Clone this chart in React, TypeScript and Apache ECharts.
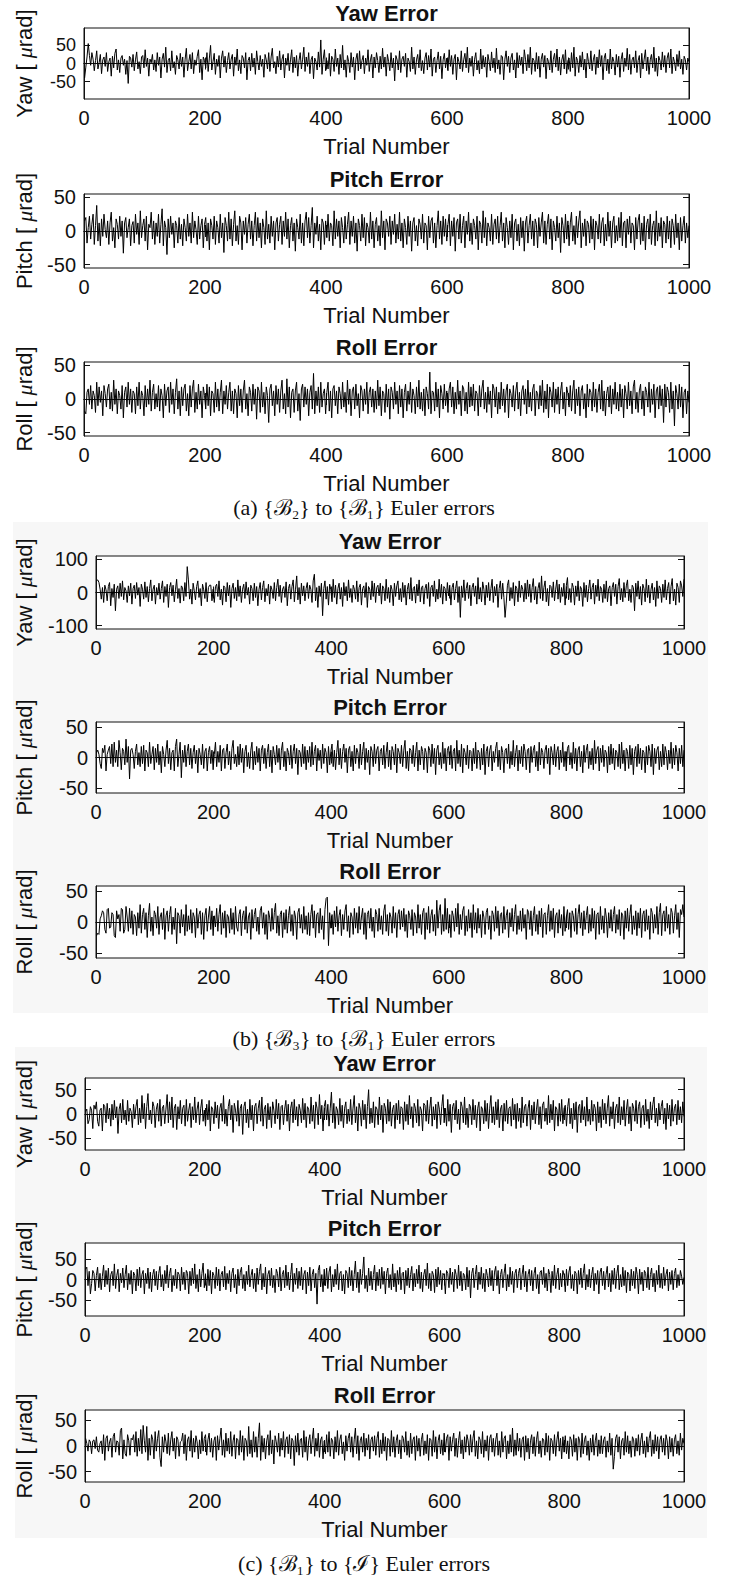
import React, { useEffect, useRef } from "react";
import * as echarts from "echarts";

// Values read (estimated) from the figure, one value for every 2nd trial (500 per series)
const xTicks = [0, 200, 400, 600, 800, 1000];
const yTicks50 = [-50, 0, 50];
const yTicks100 = [-100, 0, 100];

const yawA = [
  -40, -10, 18, 55, 22, -5, 30, 12, -20, 8, 35, -15, 2, 25, -28, 10, 18, -8, 30, -22,
  5, 15, -35, 20, -12, 28, 40, -18, 10, -25, 15, 22, -5, 12, -30, 8, -55, 20, 15, -10,
  25, -20, 10, 32, -15, 5, -28, 18, 22, -12, 38, -8, 15, -35, 12, 2, 25, -18, 10, -22,
  30, -5, 18, -40, 12, 28, -10, 45, -25, 8, 15, -20, 35, -12, 5, -30, 22, 10, -15, 28,
  -8, 18, -38, 12, 42, -20, 5, 25, -15, 30, -28, 10, -5, 20, 38, -25, 12, -45, 18, 8,
  -12, 30, -22, 15, 50, -18, 5, 28, -30, 12, -8, 22, -40, 15, 35, -10, 20, -25, 8, 30,
  -15, 12, 25, -35, 18, -5, 40, -20, 10, -28, 22, 15, -12, 30, -45, 8, 18, -20, 28, -10,
  15, -30, 35, 5, -18, 22, -8, 12, -38, 25, 10, -15, 30, -22, 18, 42, -12, 5, -28, 20,
  -10, 35, -18, 12, 25, -40, 15, -5, 28, -20, 10, 38, -25, 18, -12, 22, -35, 8, 30, -15,
  12, 45, -22, 18, -8, 30, -28, 10, 20, -42, 15, 5, -18, 32, -10, 65, -30, 12, 38, -20,
  8, -15, 28, -35, 20, 12, -22, 40, -8, 15, -30, 25, -12, 50, -18, 10, -38, 22, 5, -25,
  30, -10, 18, -45, 12, 28, -20, 35, -15, 8, 22, -28, 15, -5, 38, -22, 10, 25, -40, 18,
  -12, 30, 8, -25, 20, -15, 42, -10, 18, -35, 25, 5, -20, 30, -12, 15, -48, 22, 10, -18,
  35, -25, 12, 20, -8, 28, -38, 15, 5, -22, 45, -15, 18, -30, 10, 25, -12, 38, -20, 8,
  -28, 15, 30, -18, 22, -10, 40, -35, 12, 18, -25, 8, 32, -15, 20, -42, 10, 28, -12, 15,
  -20, 38, -8, 22, -30, 12, 25, -45, 18, 5, -15, 35, -22, 10, 28, -12, 45, -25, 15, -8,
  20, -35, 12, 30, -18, 8, -28, 40, -15, 22, -10, 18, -38, 25, 5, -20, 32, -12, 15, -25,
  42, -15, 10, -30, 22, 18, -45, 12, 35, -8, 20, -25, 15, 28, -18, 10, -40, 30, -12, 22,
  -5, 18, -28, 38, 12, -20, 25, -12, 45, -30, 15, 8, -22, 30, -15, 20, -38, 12, 28, -10,
  22, -42, 15, 5, -18, 35, -25, 12, 28, -10, 40, -20, 18, -32, 10, 25, -15, 38, -28, 8,
  15, -22, 30, -12, 45, -35, 18, 8, -25, 22, -10, 32, -18, 12, -40, 28, 5, -15, 35, -20,
  10, 25, -30, 18, -12, 38, -8, 22, -45, 15, 28, -20, 12, -28, 40, -15, 18, 5, -32, 25,
  -10, 20, -38, 12, 30, -22, 15, -8, 42, -18, 25, -30, 10, 18, -12, 35, -25, 8, 22, -40,
  28, -15, 12, 38, -20, 18, -30, 10, 25, -12, 45, -22, 15, -35, 20, 8, -18, 32, -10, 22,
  -25, 15, 30, -12, 40, -28, 18, 5, -20, 25, -8, 35, -15, 12, -30, 20, 10, -18, 15, 5,
];
const pitchA = [
  15, 20, -18, 5, 22, -12, 10, 25, -20, 8, 38, -15, 12, -22, 18, -8, 25, 2, -10, 15,
  -20, 12, 28, -15, 5, -25, 18, 10, -12, 22, -8, 15, -33, 12, 20, -10, 5, 18, -22, 8,
  14, -18, 25, -5, 12, -20, 30, -10, 8, 18, -15, 22, -28, 10, 5, 28, -12, 15, -20, 12,
  -8, 25, -18, 10, 33, -22, 15, 5, -35, 18, -10, 22, -5, 12, -25, 15, 8, -18, 20, -12,
  10, -22, 18, 5, -15, 25, -8, 12, -18, 28, -10, 15, 2, -20, 22, -12, 8, 18, -25, 10,
  20, -15, 12, -28, 18, 8, -12, 22, -20, 15, 5, -18, 25, -10, 12, -32, 20, 8, -15, 28,
  -12, 18, -22, 10, 30, -15, 8, -20, 22, 12, -28, 15, -5, 20, -18, 10, 25, -12, 15, -22,
  8, 28, -15, 20, -10, 12, -25, 18, 5, -20, 30, -12, 10, -18, 22, -8, 15, -28, 12, 20,
  -15, 10, 22, -20, 15, -8, 28, -12, 18, -25, 8, 20, -15, 12, -30, 18, 5, -12, 25, -18,
  12, -22, 15, 28, -10, 20, -18, 8, 35, -25, 12, -5, 22, -15, 10, -28, 18, 12, -20, 15,
  -10, 25, -15, 12, 8, -22, 30, -12, 18, -8, 15, -25, 20, 5, -18, 22, -12, 10, 28, -20,
  15, -8, 22, -18, 12, -30, 18, 8, -15, 25, -10, 20, -22, 12, 5, -18, 28, -12, 15, -25,
  10, 20, -15, 8, -22, 30, -10, 15, -28, 18, 12, -8, 22, -20, 15, -5, 25, -18, 10, -12,
  28, -15, 12, -25, 18, 5, -20, 22, -8, 15, -30, 12, 20, -15, 8, -22, 18, 10, -12, 25,
  -18, 12, 8, -28, 22, -10, 15, 20, -18, 12, -25, 8, 30, -12, 15, -20, 22, -8, 18, -15,
  10, 25, -22, 15, -8, 20, -30, 12, 18, -12, 25, -18, 8, 22, -25, 15, -5, 28, -15, 12,
  -20, 18, 8, -12, 22, -28, 15, 10, -18, 30, -10, 20, -22, 12, 5, -15, 25, -20, 10, 18,
  -12, 22, -18, 8, 28, -15, 12, -25, 20, 5, -20, 15, -10, 25, -28, 12, 18, -15, 10, -22,
  20, -10, 15, -30, 12, 22, -18, 8, 25, -12, 15, -22, 18, 10, -25, 20, -8, 12, 28, -18,
  15, -20, 10, 25, -12, 18, -28, 15, 5, -15, 22, -10, 12, -32, 20, 8, -18, 25, -12, 15,
  -22, 12, 28, -15, 8, -20, 22, -10, 15, 30, -25, 12, -8, 18, -22, 15, 10, -18, 22, -12,
  18, -28, 15, 8, -12, 25, -18, 12, 20, -22, 10, -15, 28, -8, 15, -25, 12, 22, -18, 8,
  -15, 20, -10, 28, -22, 12, 15, -25, 18, -5, 22, -18, 12, 8, -28, 20, -12, 15, 25, -20,
  12, -15, 22, -28, 10, 18, -12, 25, -20, 8, 15, -22, 30, -15, 12, -8, 20, -25, 15, 10,
  -18, 22, -12, 15, -25, 18, 8, -20, 25, -10, 12, -28, 20, -15, 8, 22, -18, 12, -10, 8,
];
const rollA = [
  -18, -22, 10, 15, -8, 20, -15, 12, 5, -20, 25, -10, 18, -5, 12, -25, 20, 8, -12, 15,
  22, -15, 10, -18, 28, -8, 15, -22, 12, 5, -15, 20, -28, 10, 18, -12, 25, -8, 15, -20,
  12, 8, -22, 18, -10, 25, -15, 12, 5, -25, 20, -12, 15, -8, 28, -18, 10, 22, -15, 8,
  -12, 20, -18, 15, 5, -28, 22, -10, 12, 18, -20, 25, -8, 15, -22, 10, 30, -15, 12, -25,
  18, -10, 15, 22, -18, 8, -25, 20, -12, 15, 28, -20, 10, -15, 22, -8, 12, -28, 18, 5,
  -15, 22, -10, 18, -25, 12, 8, -20, 25, -12, 15, -18, 10, 28, -22, 12, -8, 20, -15, 10,
  25, -18, 12, -22, 15, 8, -28, 20, -10, 15, -20, 12, 28, -15, 8, -25, 18, 10, -18, 22,
  -8, 15, -30, 18, 12, -20, 25, -12, 10, -22, 18, 5, -35, 15, 22, -10, 12, -25, 20, -8,
  15, -20, 12, 28, -15, 8, -22, 30, -12, 18, -28, 10, 15, -20, 12, 25, -18, 8, -32, 15,
  22, -12, 18, -8, 15, -25, 10, 20, -15, 38, -22, 12, -10, 18, -20, 25, -12, 8, 15, -22,
  10, 25, -18, 12, -28, 15, 20, -10, 12, -22, 18, 8, -15, 25, -12, 10, -20, 28, -8, 15,
  -25, 12, 18, -15, 22, -10, 8, -28, 20, 12, -18, 15, -8, 25, -22, 10, 18, -12, 15, -20,
  12, -15, 28, -10, 18, -25, 12, 8, -20, 22, -12, 15, -30, 18, 10, -15, 25, -8, 12, -22,
  20, -12, 15, -28, 10, 22, -18, 12, -8, 25, -20, 15, 5, -22, 18, -12, 28, -15, 10, -18,
  15, -25, 18, 8, -15, 40, -22, 12, 10, -18, 25, -12, 15, -28, 20, 8, -15, 22, -10, 12,
  -20, 15, 25, -12, 18, -22, 10, -15, 28, -8, 12, -25, 20, 15, -18, 10, -22, 25, -12, 18,
  -10, 22, -18, 12, 8, -25, 20, -12, 15, 28, -15, 10, -20, 18, -8, 12, -28, 22, 15, -12,
  18, -22, 10, -15, 25, -10, 15, -20, 12, 22, -28, 15, 8, -12, 20, -18, 12, 25, -15, 10,
  -25, 12, 20, -8, 15, -22, 28, -12, 10, -18, 15, 22, -25, 12, 8, -15, 20, -10, 28, -20,
  12, -15, 22, -28, 18, 10, -12, 25, -20, 15, -8, 18, -22, 12, 25, -15, 10, -25, 18, 8,
  -12, 20, -18, 12, 28, -22, 15, -10, 18, -25, 12, 20, -15, 8, -28, 22, -12, 15, 10, -18,
  25, -12, 15, -20, 10, 22, -15, 28, -18, 12, -25, 8, 18, -12, 20, -22, 15, -8, 25, -15,
  10, -18, 22, -12, 15, -28, 20, 8, -15, 25, -10, 12, -22, 18, 28, -15, 10, -20, 12, 22,
  -15, 12, -25, 18, 10, -12, 25, -20, 15, -8, 22, -28, 12, 18, -15, 20, -10, 15, -35, 22,
  -12, 18, 10, -20, 25, -15, 12, -40, 20, 8, -15, 22, -12, 18, -28, 10, 15, -22, 12, -5,
];
const yawB = [
  35, 38, 30, 10, -20, 15, -30, 22, 8, -25, 18, 30, -40, 12, -15, 25, -55, 10, 20, -18,
  28, -12, 35, -22, 15, 5, -30, 20, -10, 28, -35, 12, 22, -18, 30, -8, 15, -42, 25, 10,
  -20, 32, -15, 18, -28, 12, 38, -25, 10, 22, -35, 15, -8, 28, -20, 12, 35, -30, 18, -12,
  25, -45, 15, 30, -10, 22, -28, 8, 40, -18, 12, -32, 20, 15, -25, 30, -12, 78, 38, -20,
  10, -35, 28, 5, -22, 18, 35, -15, 12, -40, 25, 8, -18, 30, -28, 15, 22, 22, -25, 10,
  -30, 18, 25, -12, 35, -22, 10, -38, 20, 15, -28, 30, -10, 22, -45, 12, 28, -18, 15, -25,
  38, -12, 20, -30, 10, 25, -18, 32, -8, 15, -35, 22, 12, -25, 28, -15, 18, -40, 10, 30,
  -22, 15, 35, -28, 12, -10, 25, -35, 20, 8, -18, 30, -25, 15, 40, -12, 22, -30, 10, 18,
  -15, 32, -40, 12, 25, -20, 18, 38, -28, 10, 50, -22, 15, -35, 28, -10, 20, -25, 12, 30,
  -18, 22, 10, -30, 35, 55, -25, 15, -45, 20, -12, 28, -70, 12, 35, -20, 18, -38, 25, 8,
  -28, 40, -15, 22, -35, 12, 28, -20, 15, -42, 30, -10, 18, -25, 38, -15, 12, -30, 22, 10,
  -20, 35, -28, 15, 25, -38, 12, 20, -15, 30, -45, 18, 10, -22, 35, -12, 28, -30, 15, 22,
  -10, 28, -35, 20, 12, -25, 40, -18, 15, -30, 22, 8, -40, 28, -12, 20, 35, -22, 12, -28,
  30, -15, 22, -38, 10, 28, -20, 45, -25, 12, 18, -32, 25, -10, 38, -28, 15, 20, -35, 12,
  25, -18, 30, -42, 15, 22, -12, 35, -28, 10, -20, 40, -15, 25, -35, 18, 12, -25, 30, -10,
  22, -38, 15, 28, -22, 12, 35, -30, 18, -75, 20, -15, 38, -25, 12, 30, -18, 22, -40, 15,
  28, -12, 20, -35, 45, -20, 15, -28, 32, 10, -38, 22, -15, 30, -25, 12, 40, -30, 18, -10,
  25, -45, 12, 35, -20, 28, -15, -75, -32, 22, 38, -25, 15, -18, 30, -40, 20, 12, -28, 35,
  -15, 22, 10, -28, 28, -20, 38, -12, 25, -30, 15, 42, -22, 18, -35, 12, 30, -18, 50, -25,
  15, 35, -28, 12, -40, 22, 18, -15, 32, -25, 10, 38, -20, 25, -30, 15, -12, 28, -38, 20,
  45, -22, 12, -30, 28, 15, -38, 20, -12, 35, -25, 18, 10, -42, 30, -15, 22, -28, 12, 38,
  -20, 15, 28, -35, 22, -12, 40, -25, 18, 10, -30, 25, -18, 35, -28, 12, 20, -40, 15, 30,
  -12, 25, -35, 18, 42, -22, 12, -28, 30, -15, 20, 38, -25, 10, -30, 22, 15, -55, 28, -12,
  35, -20, 18, -38, 25, 12, -28, 40, -15, 22, -32, 10, 28, -22, 15, -42, 35, -18, 20, 12,
  -30, 25, -15, 38, -22, 12, 30, -35, 18, 42, -25, 10, -38, 28, 15, -30, 35, 20, -12, 40,
];
const pitchB = [
  8, 12, 5, -10, -18, 15, 8, 20, -22, 5, 12, 18, -10, 22, -15, 25, -8, 12, -15, 28,
  8, -20, 15, 10, -12, 30, -8, 18, -35, 12, 15, 5, -18, 10, 22, -12, 8, -15, 18, -10,
  20, -22, 12, 8, -15, 25, -10, 5, 18, -20, 15, -8, 22, -12, 10, -25, 18, 5, -15, 12,
  28, -10, 15, -20, 8, 12, -22, 18, 30, -15, 5, 25, -33, 12, -8, 20, -15, 10, 22, -12,
  15, -18, 8, 20, -10, 12, -25, 15, 5, -12, 22, -18, 10, 15, -22, 8, 18, -10, 12, -20,
  5, 25, -15, 10, -8, 20, -22, 12, 15, -18, 8, 22, -12, 10, -20, 15, 28, -10, 5, -15,
  18, -12, 22, -8, 15, -25, 10, 20, -15, 8, -18, 12, 25, -20, 10, -12, 18, -8, 15, -22,
  12, 20, -10, 15, -18, 8, 22, -15, 12, -25, 18, 5, -12, 20, -8, 15, -20, 12, 25, -15,
  10, -22, 15, 8, -12, 20, -18, 10, 22, -10, 15, -28, 12, 8, -15, 22, -10, 18, -20, 12,
  -8, 18, -15, 25, -12, 10, 20, -22, 15, -5, 12, -18, 22, -10, 15, 8, -25, 18, -12, 10,
  22, -15, 12, -20, 8, 28, -12, 15, -18, 10, 22, -8, 15, -25, 12, 18, -15, 10, -22, 20,
  -10, 15, 8, -18, 22, -12, 10, 25, -20, 15, -8, 12, -28, 18, 10, -15, 22, -10, 12, 18,
  -22, 10, 15, -12, 20, -18, 8, 25, -15, 12, -20, 18, 10, -12, 22, -25, 15, 8, -10, 20,
  -15, 12, 28, -18, 10, -22, 15, 12, -10, 20, -15, 8, 25, -22, 12, -12, 18, 10, -20, 15,
  8, -25, 18, 12, -15, 22, -10, 15, -28, 12, 20, -12, 8, -18, 25, -10, 15, -22, 12, 18,
  -12, 20, -18, 10, 15, -22, 28, -10, 12, -15, 22, -25, 15, 8, -12, 20, -18, 12, 10, -22,
  15, -10, 25, -18, 12, 8, -20, 15, -12, 22, -28, 10, 18, -15, 12, 20, -22, 10, -8, 15,
  25, -15, 12, -20, 18, 8, -25, 12, 15, -10, 22, -18, 10, -12, 28, -15, 8, 20, -22, 12,
  -10, 18, -15, 22, 10, -20, 12, 15, -25, 18, -8, 12, 20, -15, 10, -22, 25, -12, 15, 8,
  -18, 12, 20, -10, 15, -28, 18, 8, -12, 22, -15, 10, 18, -20, 12, -8, 25, -15, 10, -22,
  15, 20, -12, 8, -18, 25, -10, 15, -22, 12, 18, -15, 10, -25, 20, -8, 12, 22, -18, 10,
  -12, 15, -20, 28, -10, 12, 18, -22, 15, -8, 20, -15, 12, 8, -25, 18, -12, 22, -10, 15,
  -20, 12, 8, -15, 22, -18, 25, -10, 12, -22, 15, 10, -18, 20, -12, 15, -28, 10, 18, -15,
  22, -10, 15, -20, 12, 8, -25, 18, -12, 20, 10, -15, 22, -28, 15, -10, 12, 18, -20, 10,
  -15, 22, -12, 18, 8, -20, 12, -10, 25, -18, 15, -12, 20, 8, -22, 15, -10, 20, -15, 12,
];
const rollB = [
  -22, -18, -20, 5, 10, 18, 15, -12, -18, 20, 22, -10, -8, 15, 12, -22, -25, 18, 5, 12,
  -15, 22, 20, -18, -12, 25, 8, -15, 22, -10, 18, -20, 12, 8, -22, 15, -10, 28, -18, 12,
  22, -12, 15, -25, 10, 30, -15, 8, -22, 18, 12, -10, 25, -20, 8, 15, -12, 22, -28, 10,
  18, -15, 12, 25, -20, 8, -12, 22, -35, 15, 10, -18, 20, -8, 12, -22, 28, -15, 10, -12,
  20, -18, 15, 8, -25, 22, -10, 12, 18, -20, 15, -28, 10, 22, -15, 8, 25, -12, 18, -22,
  10, -8, 22, -15, 12, 28, -20, 15, -10, 18, -25, 12, 8, -18, 22, -12, 15, -20, 25, -8,
  -15, 12, 20, -22, 10, 18, -12, 25, -18, 8, 15, -28, 20, -10, 12, 22, -15, 8, -20, 18,
  25, -10, 15, -20, 12, -28, 18, 8, -15, 22, -12, 15, 30, -18, 10, -22, 12, 18, -25, 15,
  -12, 20, -18, 10, 25, -15, 12, -22, 18, 8, -28, 15, 22, -10, 12, -18, 25, -12, 10, -20,
  15, -22, 12, 28, -10, 18, -25, 12, 15, -18, 22, -12, 10, -28, 20, 38, 40, -38, 15, -10,
  12, -20, 18, -8, 25, -15, 10, 20, -22, 12, -12, 18, 28, -15, 10, -25, 15, 8, -20, 22,
  -10, 15, -18, 25, -12, 8, 22, -20, 15, -28, 12, 18, -10, 22, -15, 8, -25, 20, 12, -15,
  22, -12, 10, -20, 18, 28, -15, 12, -22, 15, 8, -18, 25, -10, 15, -25, 12, 20, -12, 18,
  -8, 22, -15, 12, -25, 18, 10, -12, 20, -22, 15, 8, -18, 28, -10, 12, -20, 15, 22, -28,
  15, -12, 25, -18, 10, 20, -15, 12, -22, 35, -10, 18, 28, -20, 12, -15, 38, -12, 22, -18,
  12, -25, 18, 10, -15, 22, -8, 30, -20, 12, -12, 18, 25, -22, 10, -15, 20, -10, 15, -25,
  28, -12, 15, -18, 22, -10, 12, -25, 18, 8, -20, 15, 22, -12, 10, -28, 18, 12, -15, 25,
  -10, 18, -22, 12, 15, -18, 25, -12, 10, 20, -25, 15, -8, 22, -15, 12, 28, -20, 10, -12,
  18, -15, 22, -10, 12, -28, 20, 15, -12, 18, -22, 10, 25, -15, 12, -20, 18, -8, 22, -25,
  12, 15, -20, 10, 28, -15, 18, -12, 22, -25, 10, 15, -18, 20, -10, 12, -22, 25, -15, 8,
  20, -12, 15, -25, 18, 10, -15, 22, -20, 12, 28, -10, 15, -22, 18, -12, 10, 25, -18, 12,
  -15, 22, -10, 18, -28, 12, 15, -20, 25, -12, 10, -18, 22, 8, -25, 15, -10, 20, -15, 12,
  25, -18, 12, -12, 20, -22, 15, 10, -28, 18, -10, 22, -15, 12, 28, -20, 10, -12, 18, -22,
  15, -10, 22, -25, 12, 18, -15, 20, -12, 10, -28, 22, 15, -18, 12, -10, 25, -20, 15, 30,
  -22, 12, 18, -15, 25, -10, 12, -20, 22, 15, -18, 10, 28, -12, 15, -25, 20, 12, 28, 8,
];
const yawC = [
  5, 10, -20, -12, 15, 8, -30, 18, 10, 25, -15, -25, 8, 12, -35, 20, 15, -18, 22, -10,
  12, -25, 20, -12, 28, -8, 15, -40, 10, 22, -18, 30, -12, 8, -22, 28, -15, 12, 5, -28,
  20, -10, 15, 30, -22, 12, -18, 38, -10, 22, -30, 15, 42, -12, 8, -20, 25, 15, -28, 10,
  22, -15, 30, -25, 12, 18, -20, 10, 40, -18, 25, -12, 35, -28, 12, 20, -32, 15, -10, 28,
  -20, 12, 18, -25, 30, -15, 8, 22, -28, 15, -12, 35, -18, 10, 25, -22, 12, 30, -15, 8,
  -25, 20, -12, 28, -35, 15, 10, -20, 25, -8, 18, -30, 12, 22, -15, 38, -20, 10, -25, 15,
  30, -12, 18, -38, 22, 8, -15, 28, -25, 12, 20, -42, 15, 25, -18, 10, -28, 30, -12, 18,
  -35, 15, 22, -20, 12, 28, -15, 35, -25, 10, 18, -30, 22, -12, 15, -28, 25, 8, -20, 30,
  -10, 22, -32, 15, 18, -22, 10, 28, -15, 20, -35, 12, 25, -18, 30, -12, 15, -25, 20, 8,
  -18, 32, -12, 22, -28, 15, 10, -20, 35, -15, 18, -30, 25, 12, -22, 40, -10, 18, -35, 15,
  28, -12, 20, -25, 12, 45, -18, 22, -30, 15, 8, -22, 32, -15, 18, -28, 12, 25, -20, 10,
  -15, 30, -22, 12, 38, -18, 15, -35, 22, 10, -25, 28, -12, 20, -30, 15, 50, -20, 12, -18,
  25, -28, 15, 10, -22, 35, -12, 18, -38, 22, 12, -20, 30, -15, 25, -25, 10, 18, -30, 22,
  -12, 28, -20, 15, 12, -32, 25, -15, 20, -22, 38, -10, 15, -28, 22, 12, -18, 30, -25, 15,
  8, -35, 22, 18, -15, 28, -20, 12, 35, -25, 15, -12, 20, -30, 25, 10, -22, 15, 40, -18,
  12, -25, 30, -15, 20, -38, 15, 22, -12, 28, -20, 10, -32, 25, 15, -18, 35, -22, 12, -28,
  20, 15, -22, 30, -12, 18, -28, 12, 25, -35, 15, 10, -20, 28, -15, 22, -30, 12, 38, -18,
  15, -22, 25, -12, 30, -28, 10, 18, -35, 22, -15, 28, -20, 12, 15, -25, 32, -12, 20, -30,
  22, -15, 12, -28, 35, -18, 15, 20, -25, 12, 28, -32, 18, -12, 25, -20, 10, 30, -22, 15,
  -30, 18, 25, -15, 12, -22, 38, -18, 20, -12, 28, -35, 15, 10, -25, 22, -15, 30, -20, 12,
  18, -25, 15, 32, -20, 12, -30, 22, -12, 25, -38, 15, 20, -18, 28, -12, 15, -25, 35, -15,
  10, -22, 28, -15, 20, 12, -35, 25, -18, 15, -28, 30, -12, 22, -20, 12, 38, -25, 15, -10,
  25, -30, 12, 20, -18, 35, -22, 15, -12, 28, -25, 10, 30, -20, 15, -35, 22, 12, -15, 28,
  -20, 15, 25, -28, 12, 18, -22, 30, -15, 10, -30, 25, -12, 20, 35, -18, 12, -25, 22, -12,
  15, 28, -20, 12, -32, 22, -10, 18, -25, 30, -15, 12, 20, -22, 28, -12, 15, -18, 25, -5,
];
const pitchC = [
  25, 30, -15, 20, -35, -10, 22, 15, -28, 10, 30, -20, 15, -25, 8, 35, -18, 22, -12, 28,
  -30, 12, 20, -15, 38, -22, 10, 25, -30, 15, -8, 28, -20, 12, 35, -25, 15, -12, 22, -35,
  18, 10, -28, 25, -15, 30, -20, 12, 22, -35, 15, -10, 28, -22, 18, -30, 12, 25, -15, 20,
  -25, 15, 32, -18, 12, -28, 22, -10, 35, -20, 15, 28, -30, 10, -15, 25, -22, 18, 12, -28,
  30, -12, 18, -25, 22, 15, -35, 20, -15, 28, -10, 38, -22, 12, -30, 25, -18, 15, 40, -20,
  12, -28, 25, -15, 22, -35, 18, 10, -22, 30, -15, 25, -28, 12, 20, -18, 32, -25, 15, -10,
  22, -30, 15, 28, -20, 12, -35, 25, -15, 18, 30, -22, 12, -28, 20, -12, 35, -18, 10, 25,
  -22, 15, -30, 28, -12, 20, 38, -25, 15, -18, 30, -35, 12, 22, -15, 28, -20, 10, -32, 25,
  15, -18, 30, -28, 12, 22, -20, 35, -15, 18, -25, 12, 40, -30, 15, -12, 28, -22, 20, -15,
  30, -25, 12, 22, -35, 18, -15, 30, -28, 12, 25, -20, 15, -60, 22, 35, -18, 12, -30, 25,
  -15, 28, -22, 18, 32, -30, 12, -18, 25, -12, 38, -25, 15, 20, -28, 12, -35, 22, 15, -20,
  30, -15, 22, -28, 12, 45, -20, 18, -32, 25, -12, 15, 55, -22, 10, -30, 28, -15, 20, -25,
  12, 35, -28, 18, -15, 25, -22, 30, -12, 20, -35, 15, 28, -20, 12, -25, 38, -18, 15, -30,
  22, -12, 30, -25, 15, 18, -35, 22, -15, 28, -20, 12, 32, -28, 15, -18, 25, -10, 35, -22,
  18, -30, 12, 25, -15, 40, -22, 15, -28, 20, 12, -32, 25, -18, 30, -12, 22, -25, 15, 10,
  -35, 22, 15, -20, 28, -12, 18, -30, 25, 12, -22, 35, -15, 20, -28, 15, 10, -25, 30, -18,
  22, -45, 15, 28, -20, 12, 35, -25, 18, -12, 30, -22, 15, -30, 25, 10, -18, 28, -15, 22,
  -28, 18, 32, -15, 22, -35, 12, 25, -20, 15, 38, -28, 12, -18, 30, -12, 20, -32, 15, 25,
  -20, 15, 28, -25, 12, 35, -18, 20, -30, 12, 25, -15, 22, -28, 15, 30, -22, 12, -35, 18,
  22, -12, 30, -20, 15, -28, 25, 12, -32, 20, -15, 35, -22, 12, 28, -25, 15, -18, 22, 10,
  -30, 25, -15, 18, 32, -22, 12, -28, 20, 15, -35, 22, -12, 28, -20, 15, 38, -25, 12, -18,
  25, -20, 12, 30, -28, 15, -12, 22, -35, 18, 28, -15, 20, -25, 12, 32, -18, 15, -30, 22,
  -12, 28, -22, 15, 35, -25, 12, -18, 30, -15, 22, -32, 18, 12, -28, 25, -15, 20, -22, 30,
  12, -35, 25, -12, 18, -28, 22, 15, -20, 30, -25, 12, 28, -18, 15, -30, 22, -12, 35, -20,
  15, -22, 30, -15, 12, 25, -28, 18, -12, 22, -25, 15, 28, -20, 12, -15, 22, 8, -12, 5,
];
const rollC = [
  15, 5, -10, 12, 8, -15, 10, 12, -5, 18, -8, -12, 5, 10, -15, 22, -28, 15, 20, -10,
  8, 15, -22, 18, 25, -12, 10, 8, -18, 30, 35, -25, 12, -15, -20, 22, 10, -18, 15, 12,
  22, -12, 28, -20, 15, -10, 32, -15, 40, 10, -12, 38, -28, 15, -18, 22, 12, -25, 28, -10,
  15, 30, -22, -40, 18, -12, 22, 8, -15, 25, -18, 12, 28, -10, 15, -25, 18, 12, -20, 8,
  10, 25, -15, 22, -28, 12, 18, -10, 30, -22, 15, -12, 20, 8, -25, 12, -15, 28, -10, 15,
  22, -18, 12, 25, -12, 15, -22, 10, 18, -28, 20, -8, 15, 35, -18, 12, -22, 25, -10, 15,
  -15, 28, -20, 10, 22, -25, 15, 12, -18, 30, -12, 20, -28, 15, 10, -20, 38, -15, 12, -22,
  28, -12, 18, -22, 15, 45, -28, 20, -12, 15, -25, 10, 22, -18, 30, -15, 12, -35, 20, 8,
  -12, 25, -20, 15, -8, 28, -22, 12, 18, -15, 22, -25, 15, 10, -38, 20, -12, 25, -18, 12,
  15, -22, 30, -12, 18, -28, 10, 22, -15, 12, 35, -20, 15, -10, 25, -22, 12, 18, -25, 10,
  -15, 22, -12, 28, -20, 15, 10, -25, 18, -12, 30, -18, 12, 22, -15, 8, -28, 20, -10, 15,
  25, -12, 18, -22, 12, 35, -15, 20, -28, 10, 18, -12, 25, -20, 15, -8, 22, -25, 12, 18,
  -10, 20, -18, 15, 28, -22, 12, -15, 25, -10, 18, -28, 15, 12, -20, 30, -12, 18, -22, 10,
  22, -15, 12, -25, 20, 15, -12, 28, -18, 10, -22, 25, -15, 12, 18, -28, 20, -10, 15, -20,
  12, 25, -18, 10, -15, 22, -28, 15, 12, -20, 30, -12, 18, -25, 10, 22, -15, 12, -18, 25,
  -12, 15, 22, -28, 18, -10, 12, 25, -20, 15, -22, 10, 28, -15, 12, -25, 18, -12, 22, 10,
  -18, 22, -12, 15, 30, -20, 10, -25, 18, 12, -15, 28, -22, 12, -10, 20, -28, 15, 22, -12,
  15, -20, 12, 25, -18, 10, -22, 28, -12, 15, 20, -25, 10, -15, 22, -12, 35, -20, 12, -18,
  25, -10, 15, -22, 12, 18, -28, 20, -12, 15, -25, 10, 22, -15, 18, -20, 12, 28, -15, 10,
  -22, 15, 12, -18, 25, -12, 20, -28, 15, 10, -15, 22, -20, 12, 28, -10, 15, -25, 18, -12,
  20, -15, 10, -25, 18, 12, -20, 22, -12, 15, -28, 18, 10, -22, 25, -15, 12, 20, -18, 10,
  -28, 15, -12, 22, -18, 10, 25, -20, 12, -15, 20, -15, 12, 18, -22, 10, -12, 25, -18, 15,
  -45, -20, 15, 22, -12, 18, -25, 10, 15, -18, 28, -12, 20, -15, 10, -22, 18, 12, -20, 15,
  -10, 22, -18, 12, 25, -15, 10, -22, 18, -12, 15, 28, -20, 12, -15, 22, -10, 18, -25, 12,
  20, -12, 15, -18, 22, 10, -25, 18, -12, 15, -20, 12, 22, -15, 10, -18, 25, -8, 15, 5,
];

const captions = [
  "(a) {ℬ₂} to {ℬ₁} Euler errors",
  "(b) {ℬ₃} to {ℬ₁} Euler errors",
  "(c) {ℬ₁} to {ℐ} Euler errors",
];

const SANS = "'Liberation Sans', Arial, sans-serif";
const SERIF = "'Liberation Serif', 'DejaVu Serif', serif";
const INK = "#111111";

type Panel = {
  title: string;
  yName: string;
  data: number[];
  yMax: number;
  yTicks: number[];
  left: number;
  right: number;
  top: number;
  bottom: number;
  yGap: number;
  yFont: number;
};

const panels: Panel[] = [
  { title: "Yaw Error", yName: "Yaw", data: yawA, yMax: 98, yTicks: yTicks50, left: 84, right: 689, top: 28, bottom: 99, yGap: 49, yFont: 18 },
  { title: "Pitch Error", yName: "Pitch", data: pitchA, yMax: 55, yTicks: yTicks50, left: 84, right: 689, top: 194, bottom: 268, yGap: 49, yFont: 20 },
  { title: "Roll Error", yName: "Roll", data: rollA, yMax: 55, yTicks: yTicks50, left: 84, right: 689, top: 362, bottom: 436, yGap: 49, yFont: 20 },
  { title: "Yaw Error", yName: "Yaw", data: yawB, yMax: 110, yTicks: yTicks100, left: 96, right: 684, top: 556, bottom: 629, yGap: 61, yFont: 20 },
  { title: "Pitch Error", yName: "Pitch", data: pitchB, yMax: 58, yTicks: yTicks50, left: 96, right: 684, top: 722, bottom: 793, yGap: 61, yFont: 20 },
  { title: "Roll Error", yName: "Roll", data: rollB, yMax: 58, yTicks: yTicks50, left: 96, right: 684, top: 886, bottom: 958, yGap: 61, yFont: 20 },
  { title: "Yaw Error", yName: "Yaw", data: yawC, yMax: 74, yTicks: yTicks50, left: 85, right: 684, top: 1078, bottom: 1150, yGap: 50, yFont: 20 },
  { title: "Pitch Error", yName: "Pitch", data: pitchC, yMax: 89, yTicks: yTicks50, left: 85, right: 684, top: 1243, bottom: 1316, yGap: 50, yFont: 20 },
  { title: "Roll Error", yName: "Roll", data: rollC, yMax: 70, yTicks: yTicks50, left: 85, right: 684, top: 1410, bottom: 1482, yGap: 50, yFont: 20 },
];

const captionY = [507, 1038, 1563];

function buildOption() {
  const grid: any[] = [];
  const xAxis: any[] = [];
  const yAxis: any[] = [];
  const series: any[] = [];
  const graphic: any[] = [];

  // light grey figure backgrounds of panels (b) and (c)
  graphic.push({ type: "rect", z: -100, shape: { x: 13, y: 522, width: 695, height: 491 }, style: { fill: "#f7f7f7" }, silent: true });
  graphic.push({ type: "rect", z: -100, shape: { x: 15, y: 1047, width: 692, height: 491 }, style: { fill: "#f7f7f7" }, silent: true });

  const tickLabelStyle = {
    show: true,
    margin: 8,
    fontSize: 20,
    fontFamily: SANS,
    color: INK,
    interval: 0,
    hideOverlap: false,
    showMinLabel: true,
    showMaxLabel: true,
    formatter: (v: number) => String(v),
  };

  panels.forEach((p, i) => {
    grid.push({
      left: p.left,
      top: p.top,
      width: p.right - p.left,
      height: p.bottom - p.top,
      show: true,
      backgroundColor: "#ffffff",
      borderColor: INK,
      borderWidth: 1,
      containLabel: false,
    });
    const axLine = { show: true, lineStyle: { color: INK, width: 1 } };
    const xIndex = xAxis.length;
    xAxis.push({
      type: "value",
      gridIndex: i,
      min: 0,
      max: 1000,
      interval: 200,
      position: "bottom",
      axisLine: axLine,
      axisTick: { show: true, inside: true, length: 6, lineStyle: { color: INK } },
      axisLabel: { ...tickLabelStyle, margin: 9, customValues: xTicks },
      splitLine: { show: false },
      name: "Trial Number",
      nameLocation: "middle",
      nameGap: 36,
      nameTextStyle: { fontSize: 22, fontFamily: SANS, color: INK },
    });
    xAxis.push({
      type: "value",
      gridIndex: i,
      min: 0,
      max: 1000,
      interval: 200,
      position: "top",
      axisLine: axLine,
      axisTick: { show: true, inside: true, length: 6, lineStyle: { color: INK } },
      axisLabel: { show: false },
      splitLine: { show: false },
    });
    const yIndex = yAxis.length;
    const yLabel = { ...tickLabelStyle, fontSize: p.yFont, lineHeight: p.yFont };
    // main left axis: line, ticks, outer tick labels and the axis name
    yAxis.push({
      type: "value",
      gridIndex: i,
      min: -p.yMax,
      max: p.yMax,
      position: "left",
      axisLine: axLine,
      axisTick: { show: true, inside: true, length: 6, lineStyle: { color: INK }, customValues: p.yTicks },
      axisLabel: { ...yLabel, customValues: [p.yTicks[0], p.yTicks[p.yTicks.length - 1]] },
      splitLine: { show: false },
      name: `${p.yName} [ {m|μ}rad]`,
      nameLocation: "middle",
      nameRotate: 90,
      nameGap: p.yGap,
      nameTextStyle: {
        fontSize: 22,
        fontFamily: SANS,
        color: INK,
        rich: { m: { fontSize: 22, fontFamily: SERIF, fontStyle: "italic", color: INK } },
      },
    });
    // second left axis carrying only the middle tick label (avoids label culling)
    yAxis.push({
      type: "value",
      gridIndex: i,
      min: -p.yMax,
      max: p.yMax,
      position: "left",
      offset: 0,
      axisLine: { show: false },
      axisTick: { show: false },
      axisLabel: { ...yLabel, customValues: p.yTicks.slice(1, p.yTicks.length - 1) },
      splitLine: { show: false },
    });
    yAxis.push({
      type: "value",
      gridIndex: i,
      min: -p.yMax,
      max: p.yMax,
      position: "right",
      axisLine: axLine,
      axisTick: { show: true, inside: true, length: 6, lineStyle: { color: INK }, customValues: p.yTicks },
      axisLabel: { show: false },
      splitLine: { show: false },
    });
    const n = p.data.length;
    series.push({
      type: "line",
      xAxisIndex: xIndex,
      yAxisIndex: yIndex,
      data: p.data.map((v, k) => [1 + (k * 999) / (n - 1), v]),
      showSymbol: false,
      symbol: "none",
      lineStyle: { color: "#000000", width: 1 },
      silent: true,
      clip: true,
    });
    graphic.push({
      type: "text",
      x: (p.left + p.right) / 2,
      y: p.top - 15,
      silent: true,
      style: {
        text: p.title,
        fontSize: 22,
        fontWeight: "bold",
        fontFamily: SANS,
        fill: INK,
        align: "center",
        verticalAlign: "middle",
      },
    });
  });

  captions.forEach((c, i) => {
    graphic.push({
      type: "text",
      x: 364,
      y: captionY[i],
      silent: true,
      style: {
        text: c,
        fontSize: 22,
        fontFamily: SERIF,
        fill: INK,
        align: "center",
        verticalAlign: "middle",
      },
    });
  });

  return {
    animation: false,
    backgroundColor: "#ffffff",
    grid,
    xAxis,
    yAxis,
    series,
    graphic,
  };
}

export default function App() {
  const ref = useRef<HTMLDivElement>(null);
  useEffect(() => {
    if (!ref.current) return;
    const chart = echarts.init(ref.current, null, { renderer: "svg" });
    chart.setOption(buildOption() as any);
    return () => chart.dispose();
  }, []);
  return (
    <div
      ref={ref}
      style={{ position: "absolute", left: 0, top: 0, width: 735, height: 1577 }}
    />
  );
}
